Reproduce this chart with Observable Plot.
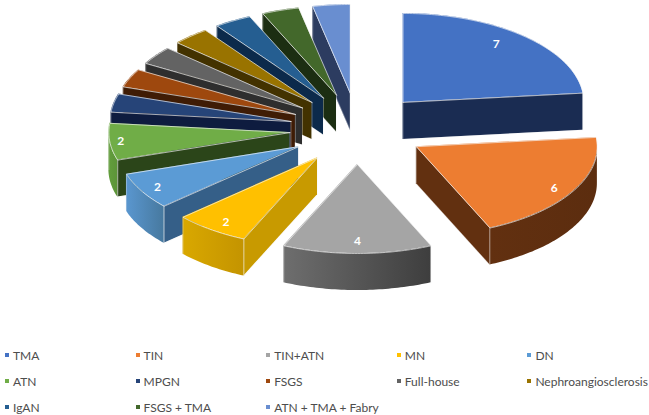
<!DOCTYPE html>
<html>
<head>
<meta charset="utf-8">
<script src="https://cdn.jsdelivr.net/npm/d3@7"></script>
<script src="https://cdn.jsdelivr.net/npm/@observablehq/plot@0.6"></script>
<style>
html,body{margin:0;padding:0;background:#fff;}
#chart svg{display:block;}
#legend{display:grid;grid-template-columns:repeat(5,130.6px);grid-auto-rows:26px;padding-left:5px;height:78px;
 font:12px Lato,"Open Sans",sans-serif;color:#4d4d4d;align-items:center;}
#legend span.i{display:flex;align-items:center;white-space:nowrap;}
#legend i{display:inline-block;width:4px;height:4px;margin-right:4px;}
</style>
</head>
<body>
<div id="chart"></div>
<div id="legend"></div>
<script>
const categories = ["TMA","TIN","TIN+ATN","MN","DN","ATN","MPGN","FSGS","Full-house","Nephroangiosclerosis","IgAN","FSGS + TMA","ATN + TMA + Fabry"];
const values = [7,6,4,2,2,2,1,1,1,1,1,1,1];
const shownLabels = [7,6,4,2,2,2,null,null,null,null,null,null,null];
const topColors = ["#4472C4","#ED7D31","#A5A5A5","#FFC000","#5B9BD5","#70AD47","#264478","#9E480E","#636363","#997300","#255E91","#43682B","#698ED0"];
const sideColors = ["#1A2C52","#623010","#555555","#C89A00","#355F88","#2B4519","#0E1C3F","#3F1C05","#2E2E2E","#433200","#0C2A4B","#1C2E12","#2C3C60"];
const rimLeftColors = ["#1A2C52","#623010","#6E6E6E","#D9A800","#5A97D0","#639E3D","#0E1C3F","#3F1C05","#2E2E2E","#433200","#0C2A4B","#1C2E12","#2C3C60"];
const rimRightColors = ["#1A2C52","#5C2D0F","#3E3E3E","#C49400","#47799F","#5C9438","#0E1C3F","#3F1C05","#2E2E2E","#433200","#0C2A4B","#1C2E12","#2C3C60"];
const labelReachX = [0.77,0.88,0.87,0.86,0.9,0.94,0,0,0,0,0,0,0];
const labelReachY = [0.88,0.94,0.865,0.89,0.92,0.94,0,0,0,0,0,0,0];

// Oblique projection of the exploded pie (unit = pie radius)
const W = 649, H = 342, RX = 181, CX = 357, CY = 128.4;
const tilt = 89/181, explodeX = 68/181, explodeY = 35.6/181, depth = 37/181;

const pie = d3.pie().sort(null)(values);
const slices = pie.map((p,i) => {
  const mid = (p.startAngle + p.endAngle)/2;
  return {i, a0:p.startAngle, a1:p.endAngle, mid,
    ax: explodeX*Math.sin(mid), ay: -explodeY*Math.cos(mid)};
});
const rimPt = (s,t) => ({x:s.ax+Math.sin(t), y:s.ay-tilt*Math.cos(t)});
const angles = (a,b,step=Math.PI/180) => {
  const n = Math.max(1,Math.ceil((b-a)/step));
  return d3.range(n+1).map(k => a+(b-a)*k/n);
};
const EDGE = "#f4f4f4";

function gradientDefs(){
  const ns = "http://www.w3.org/2000/svg";
  const defs = document.createElementNS(ns,"defs");
  slices.forEach(s => {
    const g = document.createElementNS(ns,"linearGradient");
    g.setAttribute("id","rim"+s.i);
    [[0,rimLeftColors[s.i]],[1,rimRightColors[s.i]]].forEach(([o,c]) => {
      const st = document.createElementNS(ns,"stop");
      st.setAttribute("offset",o);
      st.setAttribute("stop-color",c);
      g.append(st);
    });
    defs.append(g);
  });
  return defs;
}

function sliceMarks(s){
  const marks = [];
  const top = angles(s.a0,s.a1).map(t => {
    const p = rimPt(s,t);
    return {x1:s.ax,y1:s.ay,x2:p.x,y2:p.y};
  });
  // radial wall, visible when it faces the viewer
  const wallAngle = s.a1<Math.PI ? s.a1 : (s.a0>Math.PI ? s.a0 : null);
  if (wallAngle!==null) {
    const p = rimPt(s,wallAngle);
    const wall = [{x:s.ax,y:s.ay},{x:p.x,y:p.y}];
    marks.push(Plot.area(wall,{x1:"x",x2:"x",y1:"y",y2:d=>d.y+depth,fill:sideColors[s.i],curve:"linear"}));
    marks.push(Plot.line([{x:s.ax,y:s.ay},{x:s.ax,y:s.ay+depth},{x:p.x,y:p.y+depth},{x:p.x,y:p.y}],
      {x:"x",y:"y",stroke:EDGE,strokeWidth:0.6,strokeOpacity:0.55,curve:"linear"}));
  }
  // curved outer rim, for the front half only
  const r0 = Math.max(s.a0,Math.PI/2), r1 = Math.min(s.a1,3*Math.PI/2);
  if (r1>r0) {
    const rim = angles(r0,r1).map(t => rimPt(s,t));
    marks.push(Plot.area(rim,{x1:"x",x2:"x",y1:"y",y2:d=>d.y+depth,fill:`url(#rim${s.i})`,curve:"linear"}));
    const ends = [r0,r1].map(t=>rimPt(s,t));
    marks.push(Plot.line(ends.filter((e,k)=>!(k===0 && r0===Math.PI/2)).flatMap((e,k)=>[{x:e.x,y:e.y,k},{x:e.x,y:e.y+depth,k}]),
      {x:"x",y:"y",z:"k",stroke:EDGE,strokeWidth:0.6,strokeOpacity:0.55}));
  }
  // top face
  marks.push(Plot.area(top,{x1:"x1",y1:"y1",x2:"x2",y2:"y2",fill:topColors[s.i],curve:"linear"}));
  const outline = [{x:s.ax,y:s.ay},...top.map(d=>({x:d.x2,y:d.y2})),{x:s.ax,y:s.ay}];
  marks.push(Plot.line(outline,{x:"x",y:"y",stroke:EDGE,strokeWidth:0.9,strokeOpacity:0.75,curve:"linear"}));
  return marks;
}

const labels = slices.filter(s=>shownLabels[s.i]!==null).map(s=>({
  x:s.ax+labelReachX[s.i]*Math.sin(s.mid),
  y:s.ay-labelReachY[s.i]*tilt*Math.cos(s.mid),
  t:String(shownLabels[s.i])
}));

const chart = Plot.plot({
  width:W,height:H,margin:0,
  style:{background:"#fff"},
  x:{type:"linear",domain:[-CX/RX,(W-CX)/RX],range:[0,W],axis:null},
  y:{type:"linear",domain:[(H-CY)/RX,-CY/RX],range:[H,0],axis:null},
  marks:[
    gradientDefs,
    ...slices.slice().reverse().flatMap(sliceMarks),
    Plot.text(labels,{x:"x",y:"y",text:"t",fill:"#fff",fontSize:12,fontWeight:"bold",fontFamily:"Lato, sans-serif"})
  ]
});
document.getElementById("chart").append(chart);

const legend = document.getElementById("legend");
categories.forEach((c,i)=>{
  const el = document.createElement("span");
  el.className="i";
  const sw = document.createElement("i");
  sw.style.background = topColors[i];
  el.append(sw,document.createTextNode(c));
  legend.append(el);
});
</script>
</body>
</html>
